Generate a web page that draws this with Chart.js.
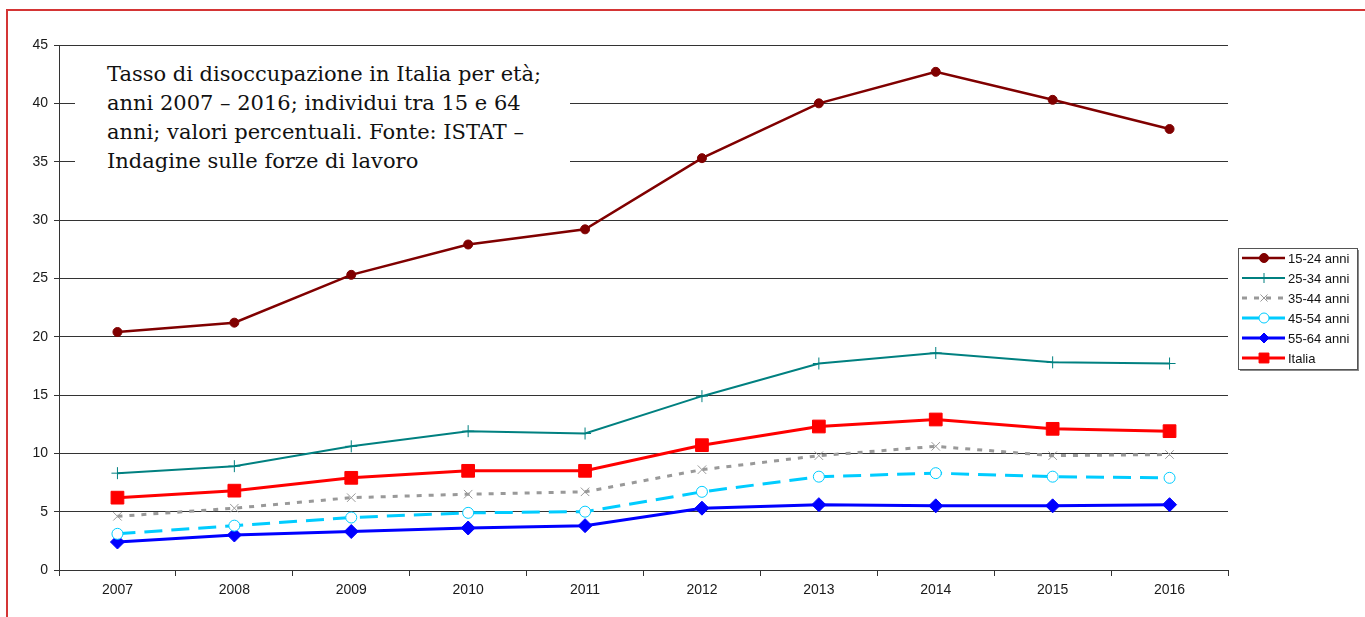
<!DOCTYPE html>
<html>
<head>
<meta charset="utf-8">
<script src="https://cdn.jsdelivr.net/npm/chart.js@4/dist/chart.umd.min.js"></script>
<style>
  body { margin: 0; background: #fff; overflow: hidden; }
  #wrap { position: relative; width: 1365px; height: 617px; }
  #frame {
    position: absolute; left: 6px; top: 9px; width: 1400px; height: 700px;
    border-top: 2px solid #d43535; border-left: 2px solid #d43535;
    pointer-events: none;
  }
  #note {
    position: absolute; left: 75px; top: 56px; width: 495px; height: 134px;
    background: #fff; box-sizing: border-box; padding: 4px 0 0 32px;
    font-family: "DejaVu Serif", serif; font-size: 21px; line-height: 29px; color: #111;
    white-space: nowrap;
  }
</style>
</head>
<body>
<div id="wrap">
  <canvas id="canvas1" width="1365" height="617"></canvas>
  <div id="frame"></div>
  <div id="note">Tasso di disoccupazione in Italia per età;<br>anni 2007 – 2016; individui tra 15 e 64<br>anni; valori percentuali. Fonte: ISTAT –<br>Indagine sulle forze di lavoro</div>
</div>
<script>
const canvas = document.getElementById('canvas1');
var ctx = canvas.getContext('2d');

const years = ['2007', '2008', '2009', '2010', '2011', '2012', '2013', '2014', '2015', '2016'];
const age15_24 = [20.4, 21.2, 25.3, 27.9, 29.2, 35.3, 40.0, 42.7, 40.3, 37.8];
const age25_34 = [8.3, 8.9, 10.6, 11.9, 11.7, 14.9, 17.7, 18.6, 17.8, 17.7];
const age35_44 = [4.6, 5.3, 6.2, 6.5, 6.7, 8.6, 9.8, 10.6, 9.8, 9.9];
const age45_54 = [3.1, 3.8, 4.5, 4.9, 5.0, 6.7, 8.0, 8.3, 8.0, 7.9];
const age55_64 = [2.4, 3.0, 3.3, 3.6, 3.8, 5.3, 5.6, 5.5, 5.5, 5.6];
const italia = [6.2, 6.8, 7.9, 8.5, 8.5, 10.7, 12.3, 12.9, 12.1, 11.9];
const seriesNames = ['15-24 anni', '25-34 anni', '35-44 anni', '45-54 anni', '55-64 anni', 'Italia'];

const data = {
  labels: years,
  datasets: [{
    label: seriesNames[0],
    data: age15_24,
    borderColor: '#800000',
    backgroundColor: '#800000',
    borderWidth: 2.5,
    pointStyle: 'circle',
    pointRadius: 4.5,
    pointBorderWidth: 1,
  }, {
    label: seriesNames[1],
    data: age25_34,
    borderColor: '#008080',
    backgroundColor: '#008080',
    borderWidth: 2,
    pointStyle: 'cross',
    pointRadius: 6,
    pointBorderWidth: 1,
  }, {
    label: seriesNames[2],
    data: age35_44,
    borderColor: '#999999',
    backgroundColor: '#999999',
    borderWidth: 3,
    borderDash: [5, 7],
    pointStyle: 'crossRot',
    pointRadius: 6,
    pointBorderWidth: 1,
  }, {
    label: seriesNames[3],
    data: age45_54,
    borderColor: '#00ccff',
    backgroundColor: '#ffffff',
    borderWidth: 3,
    borderDash: [18, 9],
    pointStyle: 'circle',
    pointRadius: 5.5,
    pointBorderWidth: 1,
  }, {
    label: seriesNames[4],
    data: age55_64,
    borderColor: '#0000ff',
    backgroundColor: '#0000ff',
    borderWidth: 3,
    pointStyle: 'rectRot',
    pointRadius: 7,
    pointBorderWidth: 1,
  }, {
    label: seriesNames[5],
    data: italia,
    borderColor: '#ff0000',
    backgroundColor: '#ff0000',
    borderWidth: 3,
    pointStyle: 'rect',
    pointRadius: 9,
    pointBorderWidth: 1,
  }]
};

// legend box drawn by hand so each row shows line + marker like the original
const boxLegend = {
  id: 'boxLegend',
  afterDraw(chart) {
    const c = chart.ctx;
    const x0 = 1238, y0 = 248, w = 119, h = 121;
    c.save();
    c.fillStyle = '#888';
    c.fillRect(x0 + 2, y0 + 2, w, h);
    c.fillStyle = '#fff';
    c.fillRect(x0, y0, w, h);
    c.strokeStyle = '#555';
    c.lineWidth = 1;
    c.strokeRect(x0 + 0.5, y0 + 0.5, w, h);
    chart.data.datasets.forEach((ds, i) => {
      const y = y0 + 10 + i * 20;
      c.beginPath();
      c.setLineDash(ds.borderDash || []);
      c.strokeStyle = ds.borderColor;
      c.lineWidth = ds.borderWidth;
      c.moveTo(x0 + 4, y);
      c.lineTo(x0 + 47, y);
      c.stroke();
      c.setLineDash([]);
      c.fillStyle = ds.backgroundColor;
      c.strokeStyle = ds.borderColor;
      c.lineWidth = ds.pointBorderWidth;
      Chart.helpers.drawPoint(c, {
        pointStyle: ds.pointStyle,
        radius: ds.pointStyle === 'rect' ? 7 : Math.min(ds.pointRadius, 5),
        borderWidth: ds.pointBorderWidth,
        rotation: 0
      }, x0 + 26, y);
      c.fillStyle = '#111';
      c.font = '13px "Liberation Sans", Arial, sans-serif';
      c.textBaseline = 'middle';
      c.fillText(ds.label, x0 + 50, y + 1);
    });
    c.restore();
  }
};

const options = {
  responsive: false,
  animation: false,
  layout: { padding: { left: 0, top: 45, right: 137, bottom: 0 } },
  plugins: {
    legend: { display: false },
    tooltip: { enabled: false }
  },
  scales: {
    y: {
      min: 0,
      max: 45,
      afterFit(axis) { axis.width = 59; },
      grid: {
        color: '#333',
        lineWidth: 1,
        tickLength: 5,
      },
      border: { color: '#333', width: 1 },
      ticks: {
        stepSize: 5,
        padding: 6,
        color: '#1a1a1a',
        font: { family: '"Liberation Sans", Arial, sans-serif', size: 14 }
      }
    },
    x: {
      offset: true,
      afterFit(axis) { axis.height = 47; },
      grid: {
        offset: true,
        drawOnChartArea: false,
        color: '#333',
        tickLength: 6,
      },
      border: { color: '#333', width: 1 },
      ticks: {
        padding: 6,
        color: '#1a1a1a',
        maxRotation: 0,
        font: { family: '"Liberation Sans", Arial, sans-serif', size: 14 }
      }
    }
  }
};

const config = {
  type: 'line',
  data: data,
  options: options,
  plugins: [boxLegend]
};
var myChart = new Chart(ctx, config);
</script>
</body>
</html>
